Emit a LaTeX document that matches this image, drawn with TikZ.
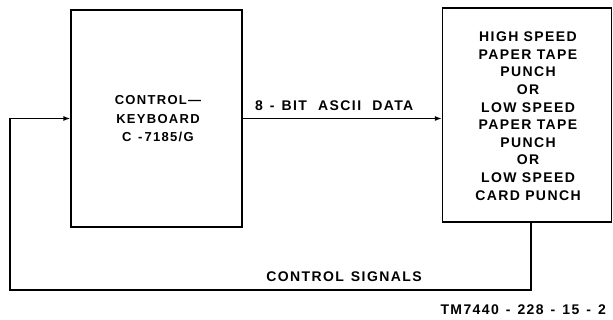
\documentclass[tikz,border=0pt]{standalone}
\usepackage{fontspec}
\usepackage{tikz}
\usetikzlibrary{arrows.meta,calc,positioning}
\newfontfamily\letterfont[LetterSpace=10]{Liberation Sans}
\tikzset{
  >={Latex[length=7pt,width=5pt]},
  tmbox/.style={draw=black, line width=1.3pt, fill=white, align=center,
                inner sep=0pt},
  tmline/.style={->, black, line width=1.3pt},
  tmlbl/.style={font=\letterfont\bfseries\fontsize{14}{17.6}\selectfont,
                align=center, inner sep=0pt},
}
\begin{document}
\begin{tikzpicture}[x=1pt,y=1pt]
  \useasboundingbox (0,0) rectangle (613,320);

  \node[tmbox, minimum width=171pt, minimum height=217pt] (kbd) at (156.5,201.5) {};
  \node[tmbox, minimum width=169pt, minimum height=214pt] (punch) at (527,205) {};

  \node[tmlbl, font=\letterfont\bfseries\fontsize{13}{18.5}\selectfont] (kbdtxt) at (158,201)
       {CONTROL\textemdash\\KEYBOARD\\C\enspace-\,7185/G};
  \node[tmlbl] (punchtxt) at (528,204)
       {HIGH SPEED\\PAPER TAPE\\PUNCH\\OR\\LOW SPEED\\PAPER TAPE\\PUNCH\\OR\\LOW SPEED\\CARD PUNCH};

  % ascii data: keyboard -> punch
  \draw[tmline] (kbd.east) -- (kbd.east -| punch.west)
        node[tmlbl, pos=0.46, above=7pt] (data)
        {8\enspace-\enspace BIT\hspace{0.8em}ASCII\hspace{0.8em}DATA};

  % control signals: punch -> keyboard (round the bottom)
  \coordinate (loop) at (10,30);
  \draw[tmline] ([xshift=4pt]punch.south) |- (loop) |- (kbd.west);
  \node[tmlbl] (sigs) at (344,43) {CONTROL\enspace SIGNALS};

  \node[tmlbl, anchor=east] (fig) at (606,10)
       {TM7440\enspace-\enspace228\enspace-\enspace15\enspace-\enspace2};
\end{tikzpicture}
\end{document}
